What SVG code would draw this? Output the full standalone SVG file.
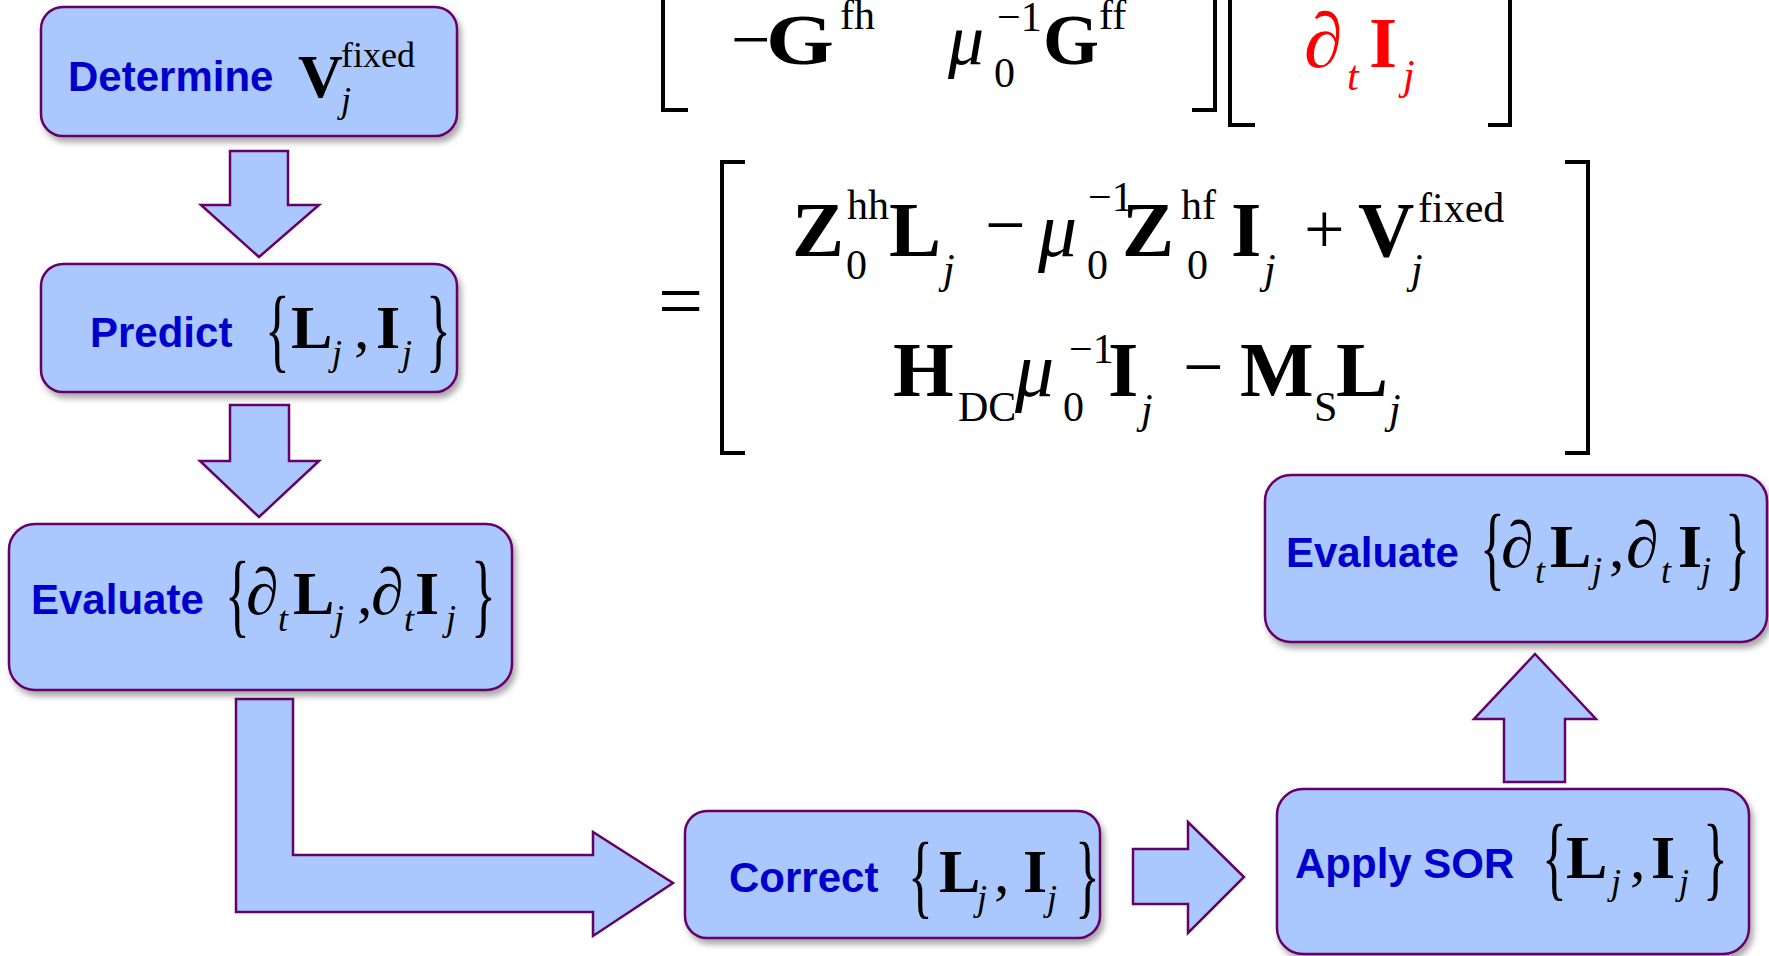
<svg xmlns="http://www.w3.org/2000/svg" width="1769" height="956" viewBox="0 0 1769 956">
<style>
.box{fill:#AAC8FE;stroke:#660066;stroke-width:2.5}
.arr{fill:#AAC8FE;stroke:#660066;stroke-width:2.5;stroke-linejoin:miter}
.lbl{font-family:"Liberation Sans",Arial,sans-serif;font-weight:bold;font-size:42px;fill:#0000CC}
.m{font-family:"Liberation Serif","Times New Roman",serif;fill:#000}
.b{font-weight:bold;font-size:62px}
.bb{font-weight:bold;font-size:78px}
.bt{font-weight:bold;font-size:72px}
.r62{font-size:62px}
.d66{font-size:66px}
.r78{font-size:78px}
.r72{font-size:72px}
.r70{font-size:70px}
.s{font-size:36px}
.s40{font-size:42px}
.i{font-style:italic}
.br{font-family:"Liberation Serif","Times New Roman",serif;font-size:94px;fill:#000}
.red{fill:#FF0000}
.brk{fill:none;stroke:#000;stroke-width:4}
</style>
<defs>
<filter id="sh" x="-10%" y="-10%" width="125%" height="130%">
<feDropShadow dx="3" dy="5" stdDeviation="3" flood-color="#000" flood-opacity="0.35"/>
</filter>
</defs>
<rect width="1769" height="956" fill="#fff"/>

<g id="connectors">
<polygon class="arr" points="230,151 288,151 288,205 319,205 259,257 201,205 230,205"/>
<polygon class="arr" points="230,405 289,405 289,461 319,461 259,517 200,461 230,461"/>
<polygon class="arr" points="236,699 293,699 293,855 593,855 593,832 673,883 593,936 593,912 236,912"/>
<polygon class="arr" points="1133,849 1188,849 1188,822 1244,877 1188,933 1188,904 1133,904"/>
<polygon class="arr" points="1504,782 1565,782 1565,719 1596,719 1535,654 1474,719 1504,719"/>
</g>

<g id="equation">
<path class="brk" d="M663,-10 V110 H688"/>
<path class="brk" d="M1215,-10 V110 H1192"/>
<path class="brk" d="M1230,-10 V125 H1255"/>
<path class="brk" d="M1510,-10 V125 H1488"/>
<text class="m r70" x="731" y="63">−</text>
<text class="m bt" x="766" y="64" textLength="68" lengthAdjust="spacingAndGlyphs">G</text>
<text class="m s40" x="840" y="29">fh</text>
<text class="m r72 i" x="948" y="64">μ</text>
<text class="m s40" x="994" y="87">0</text>
<text class="m s40" x="997" y="31">−1</text>
<text class="m bt" x="1043" y="64">G</text>
<text class="m s40" x="1099" y="29">ff</text>
<text class="m r78 i red" x="1304" y="67">∂</text>
<text class="m s40 i red" x="1347" y="90">t</text>
<text class="m bt red" x="1369" y="67">I</text>
<text class="m s40 i red" x="1403" y="89">j</text>

<text class="m" style="font-size:80px" x="658" y="328">=</text>
<path class="brk" d="M745,162 H722 V453 H745"/>
<path class="brk" d="M1565,162 H1588 V453 H1565"/>
<text class="m bb" x="792" y="256">Z</text>
<text class="m s40" x="847" y="219">hh</text>
<text class="m s40" x="846" y="279">0</text>
<text class="m bb" x="889" y="256">L</text>
<text class="m s40 i" x="943" y="283">j</text>
<text class="m r72" x="985" y="249">−</text>
<text class="m r78 i" x="1038" y="256">μ</text>
<text class="m s40" x="1087" y="279">0</text>
<text class="m s40" x="1088" y="211">−1</text>
<text class="m bb" x="1122" y="256">Z</text>
<text class="m s40" x="1181" y="219">hf</text>
<text class="m s40" x="1187" y="279">0</text>
<text class="m bb" x="1231" y="256">I</text>
<text class="m s40 i" x="1264" y="283">j</text>
<text class="m r72" x="1304" y="253">+</text>
<text class="m bb" x="1358" y="256">V</text>
<text class="m s40 i" x="1411" y="283">j</text>
<text class="m s40" x="1418" y="222">fixed</text>

<text class="m bb" x="893" y="396">H</text>
<text class="m s40" x="958" y="421">DC</text>
<text class="m r78 i" x="1015" y="396">μ</text>
<text class="m s40" x="1063" y="421">0</text>
<text class="m s40" x="1069" y="363">−1</text>
<text class="m bb" x="1108" y="396">I</text>
<text class="m s40 i" x="1141" y="423">j</text>
<text class="m r72" x="1183" y="391">−</text>
<text class="m bb" x="1240" y="396">M</text>
<text class="m s40" x="1314" y="421">S</text>
<text class="m bb" x="1336" y="396">L</text>
<text class="m s40 i" x="1389" y="423">j</text>
</g>

<g id="node-determine">
<rect class="box" filter="url(#sh)" x="41" y="7" width="416" height="129" rx="22"/>
<text class="lbl" x="68" y="91">Determine</text>
<text class="m b" x="298" y="97">V</text>
<text class="m s" x="341" y="67">fixed</text>
<text class="m s i" x="341" y="112">j</text>
</g>

<g id="node-predict">
<rect class="box" filter="url(#sh)" x="41" y="264" width="416" height="128" rx="22"/>
<text class="lbl" x="90" y="347">Predict</text>
<text class="br" transform="translate(265,361) scale(0.55,1)">{</text>
<text class="m b" x="291" y="348">L</text>
<text class="m s i" x="332" y="365">j</text>
<text class="m r62" x="354" y="348">,</text>
<text class="m b" x="376" y="348">I</text>
<text class="m s i" x="402" y="365">j</text>
<text class="br" transform="translate(426,361) scale(0.55,1)">}</text>
</g>

<g id="node-evaluate-left">
<rect class="box" filter="url(#sh)" x="9" y="524" width="503" height="166" rx="26"/>
<text class="lbl" x="31" y="614">Evaluate</text>
<text class="br" transform="translate(225,626) scale(0.55,1)">{</text>
<text class="m d66 i" x="246" y="614">∂</text>
<text class="m s i" x="278" y="631">t</text>
<text class="m b" x="293" y="614">L</text>
<text class="m s i" x="334" y="630">j</text>
<text class="m r62" x="357" y="614">,</text>
<text class="m d66 i" x="371" y="614">∂</text>
<text class="m s i" x="404" y="631">t</text>
<text class="m b" x="415" y="614">I</text>
<text class="m s i" x="446" y="630">j</text>
<text class="br" transform="translate(471,626) scale(0.55,1)">}</text>
</g>

<g id="node-correct">
<rect class="box" filter="url(#sh)" x="685" y="811" width="415" height="127" rx="22"/>
<text class="lbl" x="729" y="892">Correct</text>
<text class="br" transform="translate(908,907) scale(0.55,1)">{</text>
<text class="m b" x="939" y="892">L</text>
<text class="m s i" x="977" y="910">j</text>
<text class="m r62" x="994" y="892">,</text>
<text class="m b" x="1023" y="892">I</text>
<text class="m s i" x="1047" y="910">j</text>
<text class="br" transform="translate(1075,907) scale(0.55,1)">}</text>
</g>

<g id="node-apply-sor">
<rect class="box" filter="url(#sh)" x="1277" y="789" width="472" height="165" rx="26"/>
<text class="lbl" x="1295" y="878">Apply SOR</text>
<text class="br" transform="translate(1542,889) scale(0.55,1)">{</text>
<text class="m b" x="1566" y="878">L</text>
<text class="m s i" x="1611" y="894">j</text>
<text class="m r62" x="1630" y="878">,</text>
<text class="m b" x="1651" y="878">I</text>
<text class="m s i" x="1679" y="894">j</text>
<text class="br" transform="translate(1703,889) scale(0.55,1)">}</text>
</g>

<g id="node-evaluate-right">
<rect class="box" filter="url(#sh)" x="1265" y="475" width="502" height="167" rx="26"/>
<text class="lbl" x="1286" y="567">Evaluate</text>
<text class="br" transform="translate(1480,579) scale(0.55,1)">{</text>
<text class="m d66 i" x="1501" y="567">∂</text>
<text class="m s i" x="1535" y="583">t</text>
<text class="m b" x="1550" y="567">L</text>
<text class="m s i" x="1592" y="582">j</text>
<text class="m r62" x="1609" y="567">,</text>
<text class="m d66 i" x="1626" y="567">∂</text>
<text class="m s i" x="1661" y="583">t</text>
<text class="m b" x="1678" y="567">I</text>
<text class="m s i" x="1701" y="582">j</text>
<text class="br" transform="translate(1725,579) scale(0.55,1)">}</text>
</g>
</svg>
